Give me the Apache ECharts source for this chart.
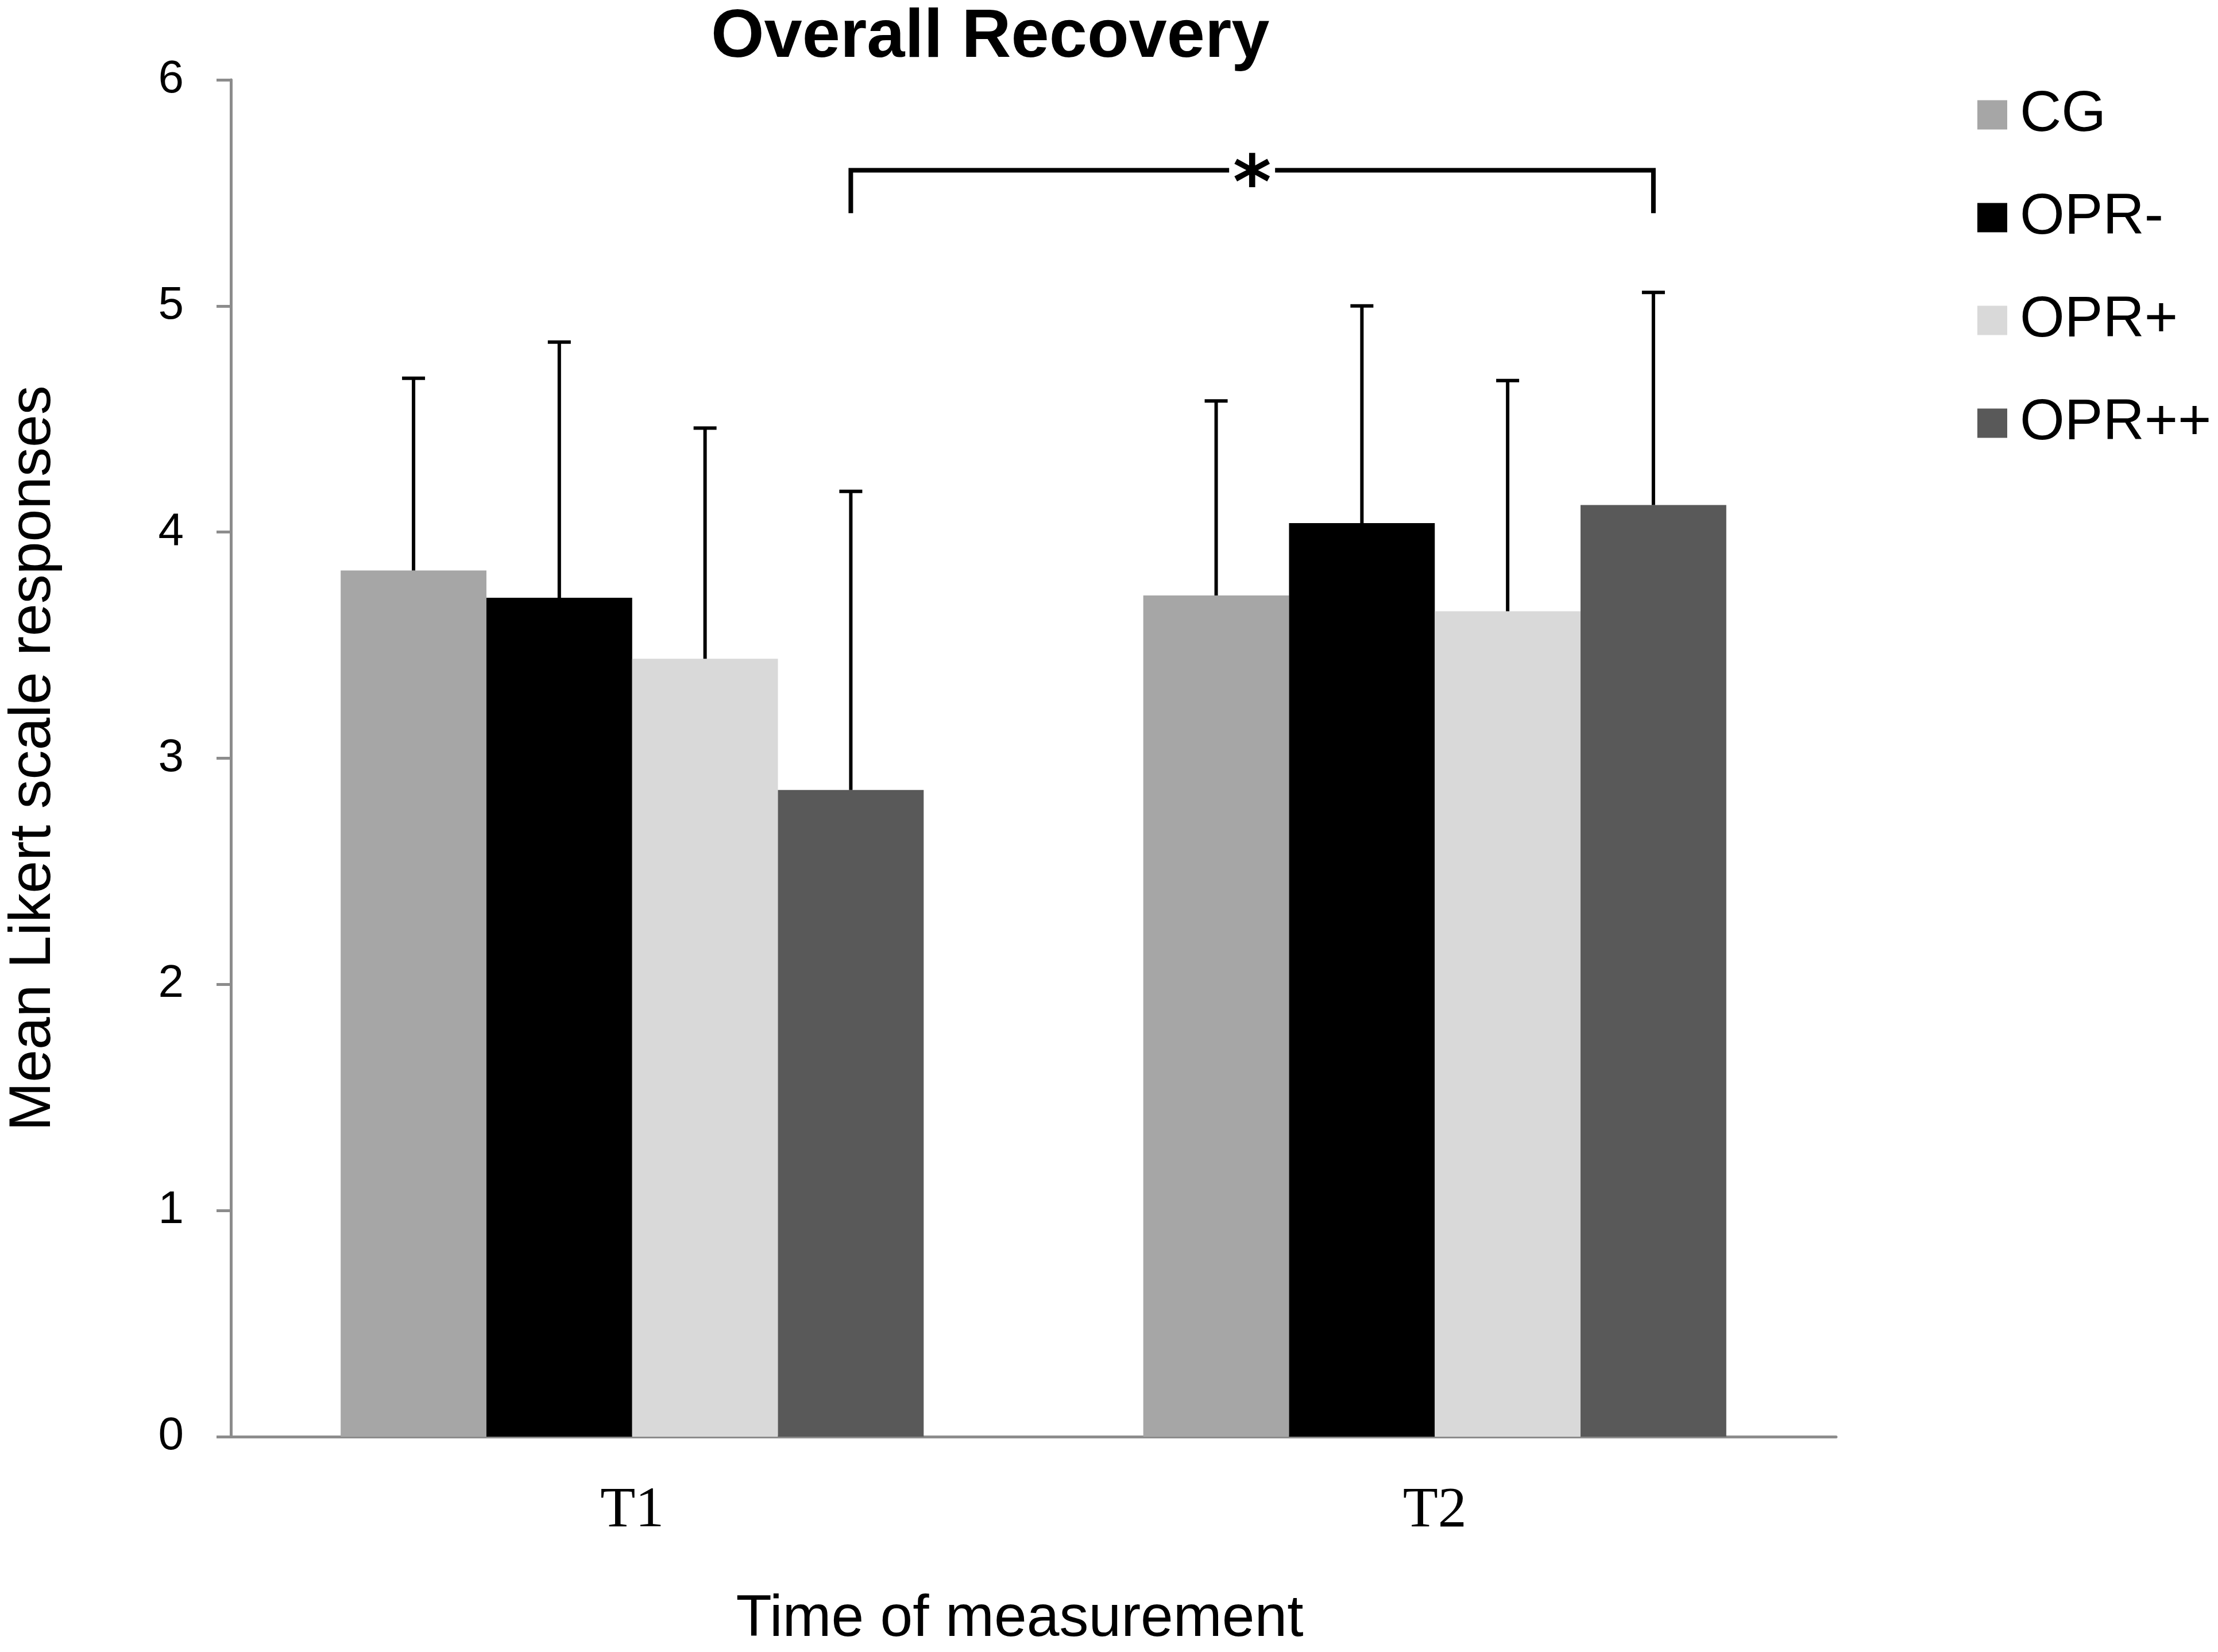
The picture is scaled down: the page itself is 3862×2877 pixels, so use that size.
<!DOCTYPE html>
<html>
<head>
<meta charset="utf-8">
<script src="https://cdn.jsdelivr.net/npm/echarts@6/dist/echarts.min.js"></script>
<style>
html,body{margin:0;padding:0;background:#fff;}
#chart{width:3862px;height:2877px;}
</style>
</head>
<body>
<div id="chart"></div>
<script>
// ---- data ----
const categories = ['T1', 'T2'];
const groupNames = ['CG', 'OPR-', 'OPR+', 'OPR++'];
const groupColors = ['#a6a6a6', '#000000', '#d9d9d9', '#595959'];
const meanCG = [3.83, 3.72];
const meanOPRminus = [3.71, 4.04];
const meanOPRplus = [3.44, 3.65];
const meanOPRplusplus = [2.86, 4.12];
const upperCG = [4.68, 4.58];
const upperOPRminus = [4.84, 5.00];
const upperOPRplus = [4.46, 4.67];
const upperOPRplusplus = [4.18, 5.06];
const yTicks = [0, 1, 2, 3, 4, 5, 6];
// significance bracket: between T1 and T2 for OPR++ (series index 3)
const bracketFrom = 0, bracketTo = 1, bracketGroup = 3;
const bracketTopValue = 5.6, bracketLegValue = 5.41;
const bracketLabel = '*';

const means = [meanCG, meanOPRminus, meanOPRplus, meanOPRplusplus];
const uppers = [upperCG, upperOPRminus, upperOPRplus, upperOPRplusplus];

const BAR_FRAC = 0.1816;
const nGroups = groupNames.length;

const errData = [];
means.forEach((arr, s) => arr.forEach((m, c) => errData.push([c, s, m, uppers[s][c]])));

const barSeries = groupNames.map((name, s) => ({
  name: name,
  type: 'bar',
  data: means[s],
  barWidth: (BAR_FRAC * 100) + '%',
  barGap: '0%',
  itemStyle: { color: groupColors[s] },
  emphasis: { disabled: true },
  silent: true
}));

function xOf(api, cat, s) {
  const band = api.size([1, 0])[0];
  const bw = band * BAR_FRAC;
  return api.coord([cat, 0])[0] + (s - (nGroups - 1) / 2) * bw;
}

const errSeries = {
  name: 'err',
  type: 'custom',
  data: errData,
  encode: { x: 0, y: [2, 3] },
  z: 5,
  silent: true,
  renderItem: function (params, api) {
    const cat = api.value(0), s = api.value(1), m = api.value(2), hi = api.value(3);
    const cx = xOf(api, cat, s);
    const yb = api.coord([cat, m])[1];
    const yt = api.coord([cat, hi])[1];
    const st = { stroke: '#000', lineWidth: 6 };
    return {
      type: 'group',
      children: [
        { type: 'line', shape: { x1: cx, y1: yb, x2: cx, y2: yt }, style: st },
        { type: 'line', shape: { x1: cx - 20, y1: yt, x2: cx + 20, y2: yt }, style: st }
      ]
    };
  }
};

const bracketSeries = {
  name: 'bracket',
  type: 'custom',
  data: [[bracketFrom, bracketTo, bracketGroup, bracketTopValue, bracketLegValue]],
  encode: { x: 0, y: 3 },
  z: 5,
  silent: true,
  renderItem: function (params, api) {
    const c1 = api.value(0), c2 = api.value(1), s = api.value(2);
    const x1 = xOf(api, c1, s), x2 = xOf(api, c2, s);
    const yt = api.coord([c1, api.value(3)])[1];
    const yl = api.coord([c1, api.value(4)])[1];
    const mid = (x1 + x2) / 2;
    const gap = 40;
    const st = { stroke: '#000', lineWidth: 8, lineCap: 'butt' };
    return {
      type: 'group',
      children: [
        { type: 'polyline', shape: { points: [[x1, yl], [x1, yt], [mid - gap, yt]] }, style: Object.assign({ fill: null }, st) },
        { type: 'polyline', shape: { points: [[mid + gap, yt], [x2, yt], [x2, yl]] }, style: Object.assign({ fill: null }, st) },
        { type: 'text', style: { text: bracketLabel, x: mid, y: yt + 32, align: 'center', verticalAlign: 'middle',
            font: 'bold 128px "DejaVu Sans"', fill: '#000' } }
      ]
    };
  }
};

const chart = echarts.init(document.getElementById('chart'), null, { renderer: 'canvas' });
chart.setOption({
  backgroundColor: '#ffffff',
  animation: false,
  title: {
    text: 'Overall Recovery',
    left: 1238,
    top: 7,
    padding: 0,
    textStyle: { fontFamily: 'Liberation Sans', fontWeight: 'bold', fontSize: 119, color: '#000', lineHeight: 119 }
  },
  legend: {
    data: groupNames,
    orient: 'vertical',
    left: 3443,
    top: 150,
    padding: 0,
    itemGap: 79,
    itemWidth: 52,
    itemHeight: 51,
    icon: 'rect',
    selectedMode: false,
    textStyle: { fontFamily: 'Liberation Sans', fontSize: 100, lineHeight: 100, color: '#000', padding: [0, 0, 0, 17] }
  },
  grid: { left: 383, right: 665, top: 139, bottom: 360, containLabel: false },
  xAxis: {
    type: 'category',
    data: categories,
    name: 'Time of measurement',
    nameLocation: 'middle',
    nameGap: 268,
    nameTextStyle: { fontFamily: 'Liberation Sans', fontSize: 102, color: '#000', padding: [0, 48, 0, 0] },
    axisLine: { show: true, lineStyle: { color: '#8c8c8c', width: 5 } },
    axisTick: { show: false },
    axisLabel: { margin: 80, fontFamily: 'Liberation Serif', fontSize: 100, color: '#000' },
    splitLine: { show: false }
  },
  yAxis: {
    type: 'value',
    min: yTicks[0],
    max: yTicks[yTicks.length - 1],
    interval: 1,
    name: 'Mean Likert scale responses',
    nameLocation: 'middle',
    nameGap: 292,
    nameTextStyle: { fontFamily: 'Liberation Sans', fontSize: 102, color: '#000' },
    axisLine: { show: true, lineStyle: { color: '#8c8c8c', width: 5 } },
    axisTick: { show: true, inside: false, length: 25, lineStyle: { color: '#8c8c8c', width: 5 } },
    axisLabel: { margin: 82, fontFamily: 'Liberation Sans', fontSize: 80, color: '#000' },
    splitLine: { show: false }
  },
  series: barSeries.concat([errSeries, bracketSeries])
});
</script>
</body>
</html>
